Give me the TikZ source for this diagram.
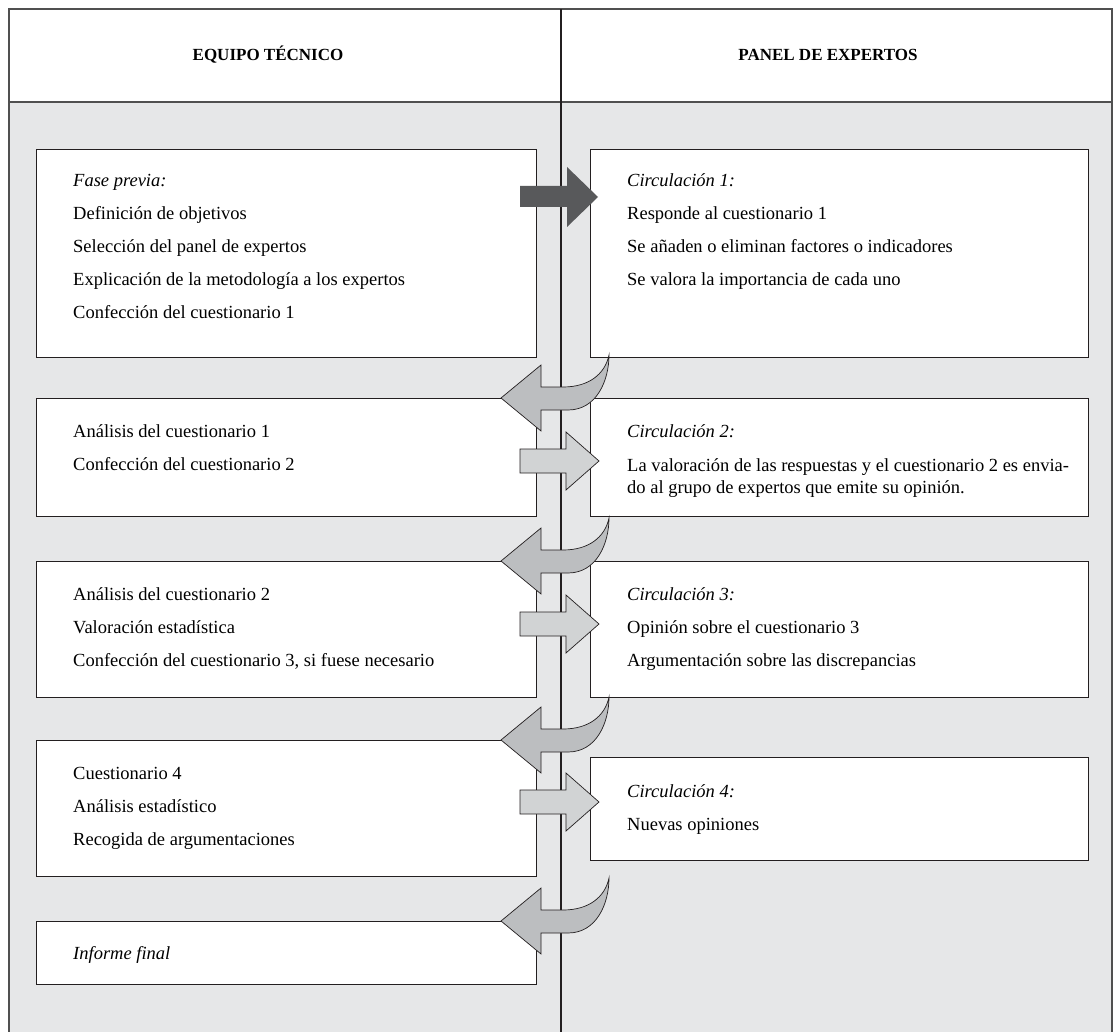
\documentclass[tikz,border=0pt]{standalone}
\usepackage{fontspec}
\setmainfont{Liberation Serif}
\definecolor{bggray}{HTML}{E6E7E8}
\definecolor{framegray}{HTML}{505050}
\definecolor{divblack}{HTML}{231F20}
\definecolor{curvefill}{HTML}{BCBEC0}
\definecolor{lightfill}{HTML}{D1D3D4}
\definecolor{darkfill}{HTML}{58595B}
\tikzset{
  panelbox/.style={draw=divblack, line width=1.3pt, fill=white, inner sep=0pt, anchor=north west},
  txt/.style={anchor=base west, inner sep=0pt, font=\fontsize{18.5}{22}\selectfont},
  hdr/.style={anchor=base, inner sep=0pt, font=\fontsize{17}{20}\selectfont\bfseries},
  arrowline/.style={draw=divblack, line width=0.7pt, line join=miter},
  curvarrow/.pic={
    \filldraw[arrowline, fill=curvefill] (0,0) -- (40,-33) -- (40,-11) -- (62,-11)
      .. controls (88,-11) and (104,-24) .. (108,-43)
      .. controls (108,-18) and (96,12) .. (67,12) -- (40,12) -- (40,33) -- cycle;
  },
  lightarrow/.pic={
    \filldraw[arrowline, fill=lightfill] (0,-12) -- (46,-12) -- (46,-29) -- (79,0)
      -- (46,29) -- (46,12) -- (0,12) -- cycle;
  },
  darkarrow/.pic={
    \fill[darkfill] (0,-11) -- (47,-11) -- (47,-30) -- (78,0)
      -- (47,30) -- (47,10) -- (0,10) -- cycle;
  }
}
\begin{document}
\begin{tikzpicture}[x=1pt, y=-1pt]
\useasboundingbox (0,0) rectangle (1114,1032);
% background
\fill[white] (0,0) rectangle (1114,1032);
\fill[bggray] (9,102) rectangle (1112,1032);
% frame
\draw[framegray, line width=1.3pt] (9,1032) -- (9,9) -- (1112,9) -- (1112,1032);
\draw[framegray, line width=1.3pt] (9,102) -- (1112,102);
% divider
\draw[divblack, line width=2.6pt] (561,9) -- (561,1032);
% headers
\node[hdr] (h1) at (268,61) {EQUIPO TÉCNICO};
\node[hdr] (h2) at (828,61) {PANEL DE EXPERTOS};
% boxes
\node[panelbox, minimum width=500pt, minimum height=208pt] (l1) at (36,149) {};
\node[panelbox, minimum width=498pt, minimum height=208pt] (r1) at (590,149) {};
\node[panelbox, minimum width=500pt, minimum height=118pt] (l2) at (36,398) {};
\node[panelbox, minimum width=498pt, minimum height=118pt] (r2) at (590,398) {};
\node[panelbox, minimum width=500pt, minimum height=136pt] (l3) at (36,561) {};
\node[panelbox, minimum width=498pt, minimum height=136pt] (r3) at (590,561) {};
\node[panelbox, minimum width=500pt, minimum height=136pt] (l4) at (36,740) {};
\node[panelbox, minimum width=498pt, minimum height=103pt] (r4) at (590,757) {};
\node[panelbox, minimum width=500pt, minimum height=63pt] (l5) at (36,921) {};
% texts box 1
\node[txt] (l1a) at (73,187) {\textit{Fase previa:}};
\node[txt] (l1b) at (73,220) {Definición de objetivos};
\node[txt] (l1c) at (73,253) {Selección del panel de expertos};
\node[txt] (l1d) at (73,286) {Explicación de la metodología a los expertos};
\node[txt] (l1e) at (73,319) {Confección del cuestionario 1};
\node[txt] (r1a) at (627,187) {\textit{Circulación 1:}};
\node[txt] (r1b) at (627,220) {Responde al cuestionario 1};
\node[txt] (r1c) at (627,253) {Se añaden o eliminan factores o indicadores};
\node[txt] (r1d) at (627,286) {Se valora la importancia de cada uno};
% box 2
\node[txt] (l2a) at (73,437) {Análisis del cuestionario 1};
\node[txt] (l2b) at (73,470) {Confección del cuestionario 2};
\node[txt] (r2a) at (627,437) {\textit{Circulación 2:}};
\node[txt] (r2b) at (627,471) {La valoración de las respuestas y el cuestionario 2 es envia-};
\node[txt] (r2c) at (627,493) {do al grupo de expertos que emite su opinión.};
% box 3
\node[txt] (l3a) at (73,600) {Análisis del cuestionario 2};
\node[txt] (l3b) at (73,633) {Valoración estadística};
\node[txt] (l3c) at (73,666) {Confección del cuestionario 3, si fuese necesario};
\node[txt] (r3a) at (627,600) {\textit{Circulación 3:}};
\node[txt] (r3b) at (627,633) {Opinión sobre el cuestionario 3};
\node[txt] (r3c) at (627,666) {Argumentación sobre las discrepancias};
% box 4
\node[txt] (l4a) at (73,779) {Cuestionario 4};
\node[txt] (l4b) at (73,812) {Análisis estadístico};
\node[txt] (l4c) at (73,845) {Recogida de argumentaciones};
\node[txt] (r4a) at (627,797) {\textit{Circulación 4:}};
\node[txt] (r4b) at (627,830) {Nuevas opiniones};
% box 5
\node[txt] (l5a) at (73,959) {\textit{Informe final}};
% arrows
\pic at (520,197) {darkarrow};
\pic at (501,398) {curvarrow};
\pic at (520,461) {lightarrow};
\pic at (501,561) {curvarrow};
\pic at (520,624) {lightarrow};
\pic at (501,740) {curvarrow};
\pic at (520,802) {lightarrow};
\pic at (501,921) {curvarrow};
\end{tikzpicture}
\end{document}
